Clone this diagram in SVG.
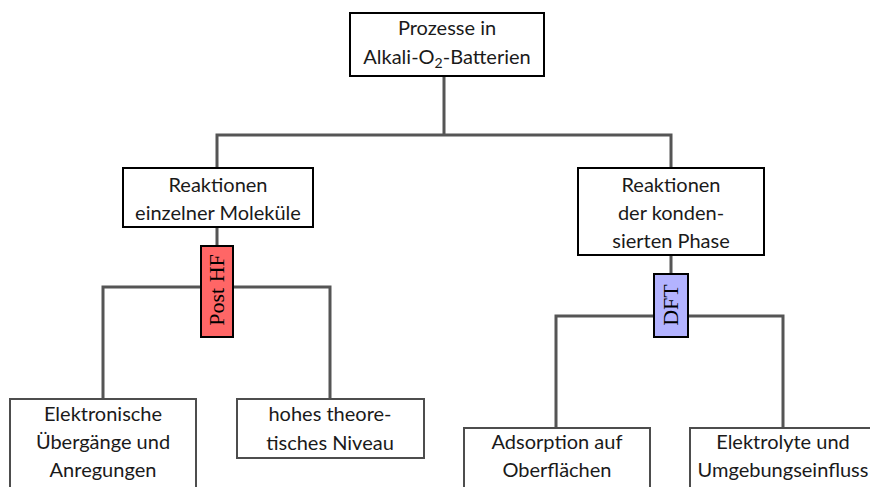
<svg xmlns="http://www.w3.org/2000/svg" width="870" height="487" viewBox="0 0 870 487">
<style>
.box{fill:#fff;stroke:#000;stroke-width:2}
.lbox{fill:#fff;stroke:#4d4d4d;stroke-width:2}
.t{font-family:Lato,"Liberation Sans",sans-serif;font-size:20px;fill:#1a1a1a;text-anchor:middle}
.s{font-family:"Liberation Serif","DejaVu Serif",serif;font-size:22px;fill:#000;text-anchor:middle}
.c{fill:none;stroke:#555;stroke-width:3}
</style>
<rect width="870" height="487" fill="#fff"/>
<g id="connectors">
<path class="c" d="M444,76V135M217,168V135H671V168"/>
<path class="c" d="M217,227V246M103,399V287H330V399"/>
<path class="c" d="M671,255V274M556,428V316H783V428"/>
</g>
<g id="root">
<rect class="box" x="350" y="13" width="194" height="63"/>
<text class="t" x="447" y="35">Prozesse in</text>
<text class="t" x="447" y="64">Alkali-O<tspan font-size="14" dy="4">2</tspan><tspan dy="-4">-Batterien</tspan></text>
</g>
<g id="einzelne">
<rect class="box" x="123" y="168" width="190" height="59"/>
<text class="t" x="218" y="192">Reaktionen</text>
<text class="t" x="218" y="220">einzelner Moleküle</text>
</g>
<g id="kondensiert">
<rect class="box" x="578" y="168" width="186" height="87"/>
<text class="t" x="671" y="192">Reaktionen</text>
<text class="t" x="671" y="220">der konden-</text>
<text class="t" x="671" y="248">sierten Phase</text>
</g>
<g id="posthf">
<rect x="201" y="246" width="32" height="91" fill="#ff6666" stroke="#000" stroke-width="2"/>
<text class="s" transform="translate(224,290) rotate(-90)">Post HF</text>
</g>
<g id="dft">
<rect x="654" y="274" width="34" height="63" fill="#b3b3ff" stroke="#000" stroke-width="2"/>
<text class="s" transform="translate(678,305) rotate(-90)">DFT</text>
</g>
<g id="elektronisch">
<rect class="lbox" x="10" y="399" width="186" height="90"/>
<text class="t" x="103" y="421">Elektronische</text>
<text class="t" x="103" y="449">Übergänge und</text>
<text class="t" x="103" y="477">Anregungen</text>
</g>
<g id="hohes">
<rect class="lbox" x="237" y="399" width="187" height="59"/>
<text class="t" x="330" y="421">hohes theore-</text>
<text class="t" x="330" y="450">tisches Niveau</text>
</g>
<g id="adsorption">
<rect class="lbox" x="464" y="428" width="186" height="61"/>
<text class="t" x="557" y="449">Adsorption auf</text>
<text class="t" x="557" y="477">Oberflächen</text>
</g>
<g id="elektrolyte">
<rect class="lbox" x="690" y="428" width="186" height="61"/>
<text class="t" x="783" y="449">Elektrolyte und</text>
<text class="t" x="783" y="477">Umgebungseinfluss</text>
</g>
</svg>
